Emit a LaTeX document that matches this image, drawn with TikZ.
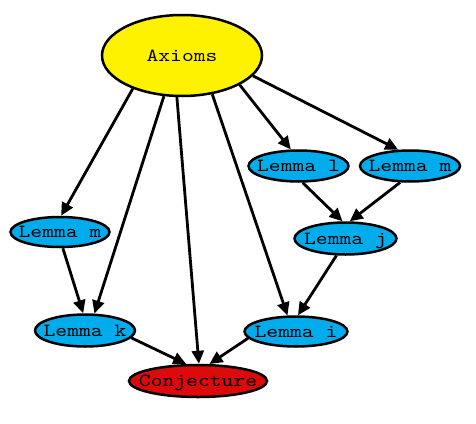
\documentclass[tikz,border=0pt]{standalone}
\usepackage{graphicx}
\usetikzlibrary{shapes.geometric,arrows.meta}
\definecolor{axy}{RGB}{255,242,0}
\definecolor{lemb}{RGB}{0,172,236}
\definecolor{conr}{RGB}{220,10,10}
\newcommand{\lbl}[1]{\makebox[0pt]{\scalebox{2.25}[1.85]{#1}}}
\tikzset{
  oval/.style={ellipse, draw=black, line width=2.5pt, inner sep=0pt,
    font=\normalsize\ttfamily, text height=11pt, text depth=0pt},
  lem/.style={oval, fill=lemb, minimum width=100pt, minimum height=31pt},
  edge/.style={line width=2.8pt, -{Triangle[length=13pt,width=12pt]}}
}
\begin{document}
\begin{tikzpicture}[x=1pt,y=-1pt]
\useasboundingbox (0,0) rectangle (476,423);
\node[oval, fill=axy, minimum width=160pt, minimum height=81pt] (ax) at (182,55.5) {\lbl{Axioms}};
\node[lem] (ll) at (298.5,166) {\lbl{Lemma l}};
\node[lem] (lmr) at (410,166) {\lbl{Lemma m}};
\node[lem, minimum width=99pt, minimum height=30pt] (lml) at (60,232) {\lbl{Lemma m}};
\node[lem, minimum width=102pt, minimum height=32pt] (lj) at (345.5,238.5) {\lbl{Lemma j}};
\node[lem, minimum height=32pt] (lk) at (85,330.5) {\lbl{Lemma k}};
\node[lem, minimum width=103pt, minimum height=30pt] (li) at (296,331.5) {\lbl{Lemma i}};
\node[oval, fill=conr, minimum width=138pt, minimum height=32pt] (cj) at (198,381) {\lbl{Conjecture}};
\draw[edge] (ax.214.4) -- (lml.86);
\draw[edge] (ax.246.6) -- (lk.61.6);
\draw[edge] (ax.263.3) -- (cj.87);
\draw[edge] (ax.308.1) -- (li.118.6);
\draw[edge] (ax.333.8) -- (ll.115.3);
\draw[edge] (ax.344.6) -- (lmr.126.9);
\draw[edge] (ll.284.8) -- (lj.100.7);
\draw[edge] (lmr.239.5) -- (lj.76.3);
\draw[edge] (lj.242.7) -- (li.83);
\draw[edge] (lml.280) -- (lk.96);
\draw[edge] (lk.351) -- (cj.125.8);
\draw[edge] (li.188.4) -- (cj.56.3);
\end{tikzpicture}
\end{document}
